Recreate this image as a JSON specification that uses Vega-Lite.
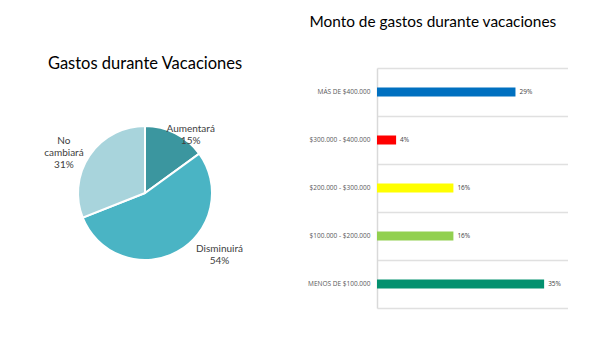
{
  "$schema": "https://vega.github.io/schema/vega-lite/v6.json",
  "padding": {"left": 0, "top": 14, "right": 0, "bottom": 0},
  "background": "white",
  "config": {"view": {"stroke": null}, "font": "Lato"},
  "bounds": "flush",
  "spacing": 87,
  "resolve": {"scale": {"color": "independent"}},
  "hconcat": [
    {
      "width": 290,
      "height": 250,
      "title": {"text": "Gastos durante Vacaciones", "fontSize": 16.5, "font": "Lato", "fontWeight": "normal", "color": "#000000", "anchor": "middle", "offset": -4},
      "data": {"values": [
        {"categoria": "Aumentará", "porcentaje": 15, "etiqueta": "Aumentará\n15%"},
        {"categoria": "Disminuirá", "porcentaje": 54, "etiqueta": "Disminuirá\n54%"},
        {"categoria": "No cambiará", "porcentaje": 31, "etiqueta": "No\ncambiará\n31%"}
      ]},
      "encoding": {
        "theta": {"field": "porcentaje", "type": "quantitative", "stack": true},
        "order": {"field": "categoria", "type": "ordinal", "sort": "ascending"}
      },
      "layer": [
        {
          "mark": {"type": "arc", "radius": 67, "stroke": "white", "strokeWidth": 2},
          "encoding": {"color": {"field": "categoria", "type": "nominal", "legend": null,
            "scale": {"domain": ["Aumentará", "Disminuirá", "No cambiará"], "range": ["#3B969F", "#4AB4C4", "#A8D4DC"]}}}
        },
        {
          "mark": {"type": "text", "radius": 72, "dx": 13, "dy": 0, "lineBreak": "\n", "fontSize": 10, "color": "#404040", "align": "center", "baseline": "middle"},
          "encoding": {"text": {"condition": {"test": "datum.categoria === 'Aumentará'", "field": "etiqueta"}, "value": ""}}
        },
        {
          "mark": {"type": "text", "radius": 80, "dx": 36, "dy": -14, "lineBreak": "\n", "fontSize": 10, "color": "#404040", "align": "center", "baseline": "middle"},
          "encoding": {"text": {"condition": {"test": "datum.categoria === 'Disminuirá'", "field": "etiqueta"}, "value": ""}}
        },
        {
          "mark": {"type": "text", "radius": 92, "dx": -5, "dy": 0, "lineBreak": "\n", "fontSize": 10, "color": "#404040", "align": "center", "baseline": "middle"},
          "encoding": {"text": {"condition": {"test": "datum.categoria === 'No cambiará'", "field": "etiqueta"}, "value": ""}}
        }
      ]
    },
    {
      "width": 191,
      "height": 240,
      "title": {"text": "Monto de gastos durante vacaciones", "fontSize": 15.4, "font": "Lato", "fontWeight": "normal", "color": "#000000", "anchor": "middle", "frame": "bounds", "offset": 38, "dx": -5},
      "data": {"values": [
        {"rango": "MÁS DE $400.000", "porcentaje": 29, "etiqueta": "29%"},
        {"rango": "$300.000 - $400.000", "porcentaje": 4, "etiqueta": "4%"},
        {"rango": "$200.000 - $300.000", "porcentaje": 16, "etiqueta": "16%"},
        {"rango": "$100.000 - $200.000", "porcentaje": 16, "etiqueta": "16%"},
        {"rango": "MENOS DE $100.000", "porcentaje": 35, "etiqueta": "35%"}
      ]},
      "encoding": {
        "y": {"field": "rango", "type": "nominal", "sort": null,
          "scale": {"paddingInner": 0, "paddingOuter": 0},
          "axis": {"title": null, "ticks": false, "domainColor": "#d9d9d9", "domainWidth": 1.5, "grid": true, "gridColor": "#e0e0e0", "gridWidth": 1.5, "bandPosition": 0,
            "labelFontSize": 6.5, "labelColor": "#595959", "labelPadding": 7, "labelFont": "Open Sans"}},
        "x": {"field": "porcentaje", "type": "quantitative", "scale": {"domain": [0, 40]},
          "axis": {"title": null, "labels": false, "ticks": false, "grid": false, "domainColor": "#e0e0e0", "domainWidth": 1.5}}
      },
      "layer": [
        {
          "mark": {"type": "bar", "size": 9},
          "encoding": {"color": {"field": "rango", "type": "nominal", "sort": null, "legend": null,
            "scale": {"domain": ["MÁS DE $400.000", "$300.000 - $400.000", "$200.000 - $300.000", "$100.000 - $200.000", "MENOS DE $100.000"],
                      "range": ["#0070C0", "#FF0000", "#FFFF00", "#92D050", "#03916F"]}}}
        },
        {
          "mark": {"type": "text", "align": "left", "dx": 4, "fontSize": 6.5, "color": "#404040", "font": "Open Sans"},
          "encoding": {"text": {"field": "etiqueta"}}
        }
      ]
    }
  ]
}
